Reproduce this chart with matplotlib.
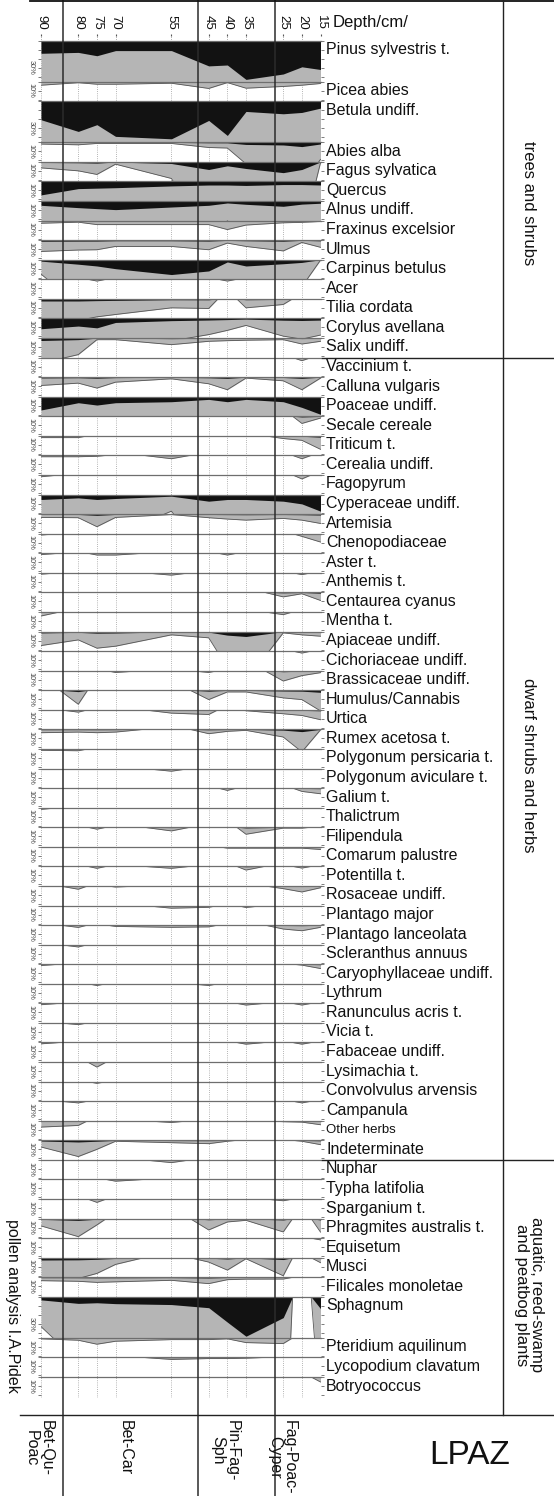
import numpy as np
import matplotlib
matplotlib.use("Agg")
import matplotlib.pyplot as plt
from matplotlib.lines import Line2D

plt.rcParams['font.family'] = ['Liberation Sans', 'DejaVu Sans']

# ---------------- data (percent of pollen sum) ----------------
DEPTHS = [90, 80, 75, 70, 55, 45, 40, 35, 25, 20, 15]

# trees and shrubs
pinus = [14, 13, 16.7, 11, 11, 28, 27, 43, 37, 29, 32]
picea = [0.39, 0.11, 0.28, 0.28, 0.17, 0.75, 0.1, 0.72, 0.53, 0.39, 0.2]
betula = [20.5, 33.5, 26, 39, 41.7, 21.3, 38, 11.3, 13.9, 12.4, 7.6]
abies = [0.2, 0.28, 0.13, 0.13, 0.13, 0.58, 0.64, 2.4, 3.0, 4.8, 1.9]
fagus = [0.67, 1.0, 1.4, 0.26, 1.85, 8.5, 4.4, 7.4, 12, 8.5, 0.1]
quercus = [15, 8, 7.5, 7, 5, 4, 4, 4.5, 3.5, 3.5, 4]
alnus = [4.8, 7.4, 8.5, 9.6, 6.7, 4.8, 2.2, 3.7, 5.9, 3.5, 2.5]
fraxinus = [0.3, 0.18, 0.45, 0.45, 0.45, 0.45, 1.0, 0.5, 0.25, 0.2, 0.1]
ulmus = [1.26, 1.1, 1.07, 0.7, 0.7, 1.07, 0.33, 0.7, 1.2, 0.26, 0.8]
carpinus = [1.6, 5, 7, 10, 16.5, 12.5, 2.5, 7, 4.5, 3, 0.05]
acer = [0, 0, 0.2, 0, 0, 0, 0.2, 0, 0, 0, 0]
tilia = [2.4, 2.4, 2.0, 1.74, 1.0, 1.07, 0, 1.0, 0.63, 0, 0]
corylus = [11.5, 8.5, 10.5, 4.5, 2.5, 1.8, 1.33, 0.78, 1.97, 2.3, 1.85]
salix = [2.8, 1.85, 0.19, 0.19, 0.74, 0.37, 0.3, 0.25, 0.19, 0.67, 0.37]

# dwarf shrubs and herbs
vaccinium = [0, 0, 0, 0, 0, 0, 0, 0, 0, 0.35, 0]
calluna = [0.93, 0.67, 1.22, 0.56, 0.19, 0.74, 1.4, 0.11, 0.41, 1.4, 0.11]
poaceae = [14.8, 6.7, 9.3, 6.7, 5.6, 3.0, 5.6, 3.0, 5.6, 11.9, 19.6]
secale = [0, 0, 0, 0, 0, 0, 0, 0, 0, 0.8, 0.2]
triticum = [0.2, 0.2, 0, 0, 0, 0, 0, 0, 0.3, 0.5, 1.5]
cerealia = [0.15, 0.15, 0.1, 0, 0.37, 0, 0, 0, 0, 0.37, 0]
fagopyrum = [0.2, 0, 0, 0, 0, 0, 0, 0, 0, 0.44, 0]
cyperaceae = [5.5, 3.7, 5.5, 4.4, 1.85, 7.4, 5.5, 5.5, 7.4, 10.4, 18.5]
artemisia = [0.37, 0.4, 1.4, 0.37, 0.05, 0.4, 0.55, 0.67, 0.48, 0.67, 1.04]
chenopodiaceae = [0.15, 0, 0, 0, 0, 0, 0, 0, 0, 0.3, 0.93]
aster = [0.15, 0, 0.2, 0.2, 0, 0, 0.2, 0, 0, 0, 0]
anthemis = [0.15, 0, 0, 0, 0.26, 0, 0, 0, 0, 0.2, 0]
centaurea = [0, 0, 0, 0, 0, 0, 0, 0, 0.5, 0.15, 0.9]
mentha = [0.45, 0, 0, 0, 0, 0, 0, 0, 0.3, 0, 0]
apiaceae = [1.56, 0.93, 1.85, 1.63, 0.37, 0.7, 4.0, 5.5, 0.15, 0.37, 0.52]
cichoriaceae = [0, 0, 0, 0, 0, 0, 0, 0, 0, 0.22, 0]
brassicaceae = [0, 0, 0, 0.2, 0, 0.2, 0, 0, 1.15, 0.55, 0.22]
humulus = [0, 1.56, 0, 0, 0, 1.04, 0.19, 0.19, 0.85, 1.04, 2.3]
urtica = [0, 0.26, 0, 0, 0.37, 0.52, 0, 0.1, 0.44, 0.63, 1.1]
rumex = [0.37, 0.3, 0.37, 0.3, 0, 0.48, 0.22, 0.11, 0.85, 2.5, 0.05]
polygonum_persicaria = [0.15, 0.2, 0, 0, 0, 0, 0, 0, 0, 0, 0]
polygonum_aviculare = [0, 0, 0, 0, 0.3, 0, 0, 0, 0, 0, 0]
galium = [0, 0, 0, 0, 0, 0, 0.26, 0, 0, 0.37, 0.63]
thalictrum = [0.19, 0, 0, 0, 0, 0, 0, 0, 0, 0, 0]
filipendula = [0, 0, 0.22, 0, 0.41, 0, 0, 0.78, 0.1, 0.1, 0]
comarum = [0, 0, 0, 0, 0, 0, 0.15, 0.15, 0.15, 0.15, 0.3]
potentilla = [0, 0, 0.22, 0, 0.22, 0, 0, 0.41, 0, 0.19, 0]
rosaceae = [0, 0.37, 0, 0.12, 0, 0, 0, 0, 0.3, 0.67, 0.2]
plantago_major = [0, 0, 0, 0, 0.3, 0.2, 0, 0.22, 0, 0, 0]
plantago_lanceolata = [0, 0.26, 0, 0.15, 0.25, 0.2, 0, 0, 0.44, 0.63, 0.25]
scleranthus = [0, 0.26, 0, 0, 0, 0, 0, 0, 0, 0, 0]
caryophyllaceae = [0.15, 0, 0, 0, 0, 0, 0, 0, 0, 0.1, 0.48]
lythrum = [0, 0, 0.19, 0, 0, 0.19, 0, 0, 0, 0, 0]
ranunculus = [0.15, 0, 0, 0, 0, 0, 0, 0.19, 0, 0.19, 0]
vicia = [0, 0.19, 0, 0, 0, 0, 0, 0, 0, 0, 0]
fabaceae = [0.15, 0, 0, 0, 0, 0, 0, 0.19, 0, 0.19, 0]
lysimachia = [0, 0, 0.56, 0, 0, 0, 0, 0, 0, 0, 0]
convolvulus = [0, 0, 0.19, 0, 0, 0, 0, 0, 0, 0, 0]
campanula = [0, 0.19, 0, 0, 0, 0, 0, 0, 0, 0.19, 0]
other_herbs = [0.7, 0.52, 0, 0, 0.19, 0, 0, 0, 0.1, 0.15, 0.44]
indeterminate = [0.74, 1.8, 1.0, 0.1, 0.26, 0.37, 0.1, 0, 0, 0.1, 0.48]

# aquatic, reed-swamp and peatbog plants
nuphar = [0, 0, 0, 0, 0.3, 0, 0, 0, 0, 0, 0]
typha = [0, 0, 0, 0.19, 0, 0, 0, 0, 0, 0, 0]
sparganium = [0, 0, 0.37, 0, 0, 0, 0, 0, 0.19, 0, 0]
phragmites = [0.81, 2.0, 0.7, 0, 0, 1.26, 0.37, 0.19, 1.48, 0, 1.5]
equisetum = [0, 0, 0, 0, 0, 0, 0, 0, 0, 0, 0.19]
musci = [2.5, 2.3, 1.74, 0.74, 0, 0.48, 1.37, 0.11, 2.0, 0, 0.55]
filicales = [0.37, 0.44, 0.56, 0.5, 0.33, 0.7, 0.26, 0.2, 0.19, 0, 0]
sphagnum = [3.3, 7.2, 6.5, 7.5, 8.5, 12, 28, 43.7, 23, 0, 13]
pteridium = [0.1, 0.26, 0.7, 0.37, 0.19, 0.19, 0.1, 0.52, 0.63, 0, 0]
lycopodium = [0, 0, 0, 0, 0.22, 0.12, 0.12, 0.08, 0, 0, 0]
botryococcus = [0, 0, 0, 0, 0, 0, 0, 0, 0, 0, 0.55]

TREES = [("Pinus sylvestris t.", pinus), ("Picea abies", picea),
         ("Betula undiff.", betula), ("Abies alba", abies),
         ("Fagus sylvatica", fagus), ("Quercus", quercus),
         ("Alnus undiff.", alnus), ("Fraxinus excelsior", fraxinus),
         ("Ulmus", ulmus), ("Carpinus betulus", carpinus), ("Acer", acer),
         ("Tilia cordata", tilia), ("Corylus avellana", corylus),
         ("Salix undiff.", salix)]
HERBS = [("Vaccinium t.", vaccinium), ("Calluna vulgaris", calluna),
         ("Poaceae undiff.", poaceae), ("Secale cereale", secale),
         ("Triticum t.", triticum), ("Cerealia undiff.", cerealia),
         ("Fagopyrum", fagopyrum), ("Cyperaceae undiff.", cyperaceae),
         ("Artemisia", artemisia), ("Chenopodiaceae", chenopodiaceae),
         ("Aster t.", aster), ("Anthemis t.", anthemis),
         ("Centaurea cyanus", centaurea), ("Mentha t.", mentha),
         ("Apiaceae undiff.", apiaceae), ("Cichoriaceae undiff.", cichoriaceae),
         ("Brassicaceae undiff.", brassicaceae), ("Humulus/Cannabis", humulus),
         ("Urtica", urtica), ("Rumex acetosa t.", rumex),
         ("Polygonum persicaria t.", polygonum_persicaria),
         ("Polygonum aviculare t.", polygonum_aviculare),
         ("Galium t.", galium), ("Thalictrum", thalictrum),
         ("Filipendula", filipendula), ("Comarum palustre", comarum),
         ("Potentilla t.", potentilla), ("Rosaceae undiff.", rosaceae),
         ("Plantago major", plantago_major),
         ("Plantago lanceolata", plantago_lanceolata),
         ("Scleranthus annuus", scleranthus),
         ("Caryophyllaceae undiff.", caryophyllaceae), ("Lythrum", lythrum),
         ("Ranunculus acris t.", ranunculus), ("Vicia t.", vicia),
         ("Fabaceae undiff.", fabaceae), ("Lysimachia t.", lysimachia),
         ("Convolvulus arvensis", convolvulus), ("Campanula", campanula),
         ("Other herbs", other_herbs), ("Indeterminate", indeterminate)]
AQUATIC = [("Nuphar", nuphar), ("Typha latifolia", typha),
           ("Sparganium t.", sparganium),
           ("Phragmites australis t.", phragmites), ("Equisetum", equisetum),
           ("Musci", musci), ("Filicales monoletae", filicales),
           ("Sphagnum", sphagnum), ("Pteridium aquilinum", pteridium),
           ("Lycopodium clavatum", lycopodium), ("Botryococcus", botryococcus)]

GROUP_NAMES = ["trees and shrubs", "dwarf shrubs and herbs",
               "aquatic, reed-swamp\nand peatbog plants"]
ZONE_BOUNDS = [84.2, 47.8, 27.1]
ZONE_NAMES = ["Bet-Qu-\nPoac", "Bet-Car", "Pin-Fag-\nSph", "Fag-Poac-\nCyper"]
EXAGGERATION = 10

# ---------------- layout / style ----------------
W, H, DPI = 554, 1496, 100
X0, X1 = 41.0, 320.5
TOP0 = 40.7
SMALL_H, BIG_H = 19.57, 41.0
PX_PER_PCT = 0.9
BIG = {"Pinus sylvestris t.", "Betula undiff.", "Sphagnum"}
GRAY = "#b5b5b5"
BLACK = "#121212"
LABEL_X = 326
GROUP_Y = [203, 765, 1295]
ZONE_LABEL_X = [39, 125, 225, 282]

fig = plt.figure(figsize=(W / DPI, H / DPI), dpi=DPI)
fig.patch.set_facecolor("white")


def rect(x, y, w, h):
    return [x / W, 1 - (y + h) / H, w / W, h / H]


def profile(depths, vals):
    xs, ys = [], []
    for i, (d, v) in enumerate(zip(depths, vals)):
        if i > 0:
            pv = vals[i - 1]
            if (pv == 0) != (v == 0):
                xs.append((depths[i - 1] + d) / 2.0)
                ys.append(0.0)
        xs.append(d)
        ys.append(v)
    return np.array(xs, float), np.array(ys, float)


# background: dotted sample lines + depth labels on top
bg = fig.add_axes(rect(X0, 36, X1 - X0, 1397.5 - 36))
bg.set_xlim(90, 15)
bg.set_ylim(0, 1)
for s in bg.spines.values():
    s.set_visible(False)
bg.patch.set_visible(False)
bg.set_yticks([])
bg.xaxis.tick_top()
bg.set_xticks(DEPTHS)
bg.set_xticklabels([str(d) for d in DEPTHS], rotation=-90, fontsize=9.5)
bg.tick_params(axis='x', length=1.5, width=0.8, pad=3, color='#555',
               labelcolor='#111')
for d in DEPTHS:
    bg.axvline(d, color='#9c9c9c', lw=0.6, ls=(0, (1, 1.6)))

# bands
y = TOP0
for group in (TREES, HERBS, AQUATIC):
    for name, vals in group:
        h = BIG_H if name in BIG else SMALL_H
        ax = fig.add_axes(rect(X0, y, X1 - X0, h))
        ymax = h / PX_PER_PCT
        ax.set_xlim(90, 15)
        ax.set_ylim(ymax, 0)
        xs, ys = profile(DEPTHS, vals)
        ax.fill_between(xs, 0, ys * EXAGGERATION, color=GRAY, lw=0)
        ax.plot(xs, ys * EXAGGERATION, color='#555555', lw=0.6)
        ax.fill_between(xs, 0, ys, color=BLACK, lw=0)
        ax.axhline(0, color='#6e6e6e', lw=0.9, clip_on=False)
        ticks = list(np.arange(0, ymax, 10))
        lab_at = 30 if name in BIG else 10
        ax.set_yticks(ticks)
        ax.set_yticklabels(['%d%%' % t if t == lab_at else '' for t in ticks],
                           rotation=-90, va='center')
        ax.tick_params(axis='y', left=True, right=True, length=2.2, width=0.6,
                       color='#666', labelsize=5.3, labelcolor='#444', pad=2.6)
        ax.set_xticks([])
        for s in ax.spines.values():
            s.set_visible(False)
        ax.patch.set_visible(False)
        fs = 9.5 if name == "Other herbs" else 11.5
        fig.text(LABEL_X / W, 1 - (y + 9) / H, name, fontsize=fs,
                 ha='left', va='center', color='#111')
        y += h

# zone boundaries (overlay)
ov = fig.add_axes(rect(X0, 0, X1 - X0, H))
ov.set_xlim(90, 15)
ov.set_ylim(0, 1)
ov.axis('off')
for b in ZONE_BOUNDS:
    ov.axvline(b, color='#2b2b2b', lw=1.1)


def hline(yy, x0, x1, lw=1.0, color='#222'):
    fig.add_artist(Line2D([x0 / W, x1 / W], [1 - yy / H, 1 - yy / H],
                          lw=lw, color=color))


def vline(xx, y0, y1, lw=1.0, color='#222'):
    fig.add_artist(Line2D([xx / W, xx / W], [1 - y0 / H, 1 - y1 / H],
                          lw=lw, color=color))


hline(1.2, 30, 554, 1.3, '#111')
vline(503, 0, 1415, 1.0)
hline(358, 322, 554, 1.0)
hline(1160, 322, 554, 1.0)
hline(1415, 20, 554, 1.0)

fig.text(333 / W, 1 - 22 / H, "Depth/cm/", fontsize=12, ha='left',
         va='center', color='#111')

for gname, gy in zip(GROUP_NAMES, GROUP_Y):
    fig.text(529 / W, 1 - gy / H, gname, fontsize=12, rotation=-90,
             ha='center', va='center', color='#111', linespacing=1.0)

for zname, zx in zip(ZONE_NAMES, ZONE_LABEL_X):
    fig.text(zx / W, 1 - 1420 / H, zname, fontsize=11.5, rotation=-90,
             ha='center', va='top', color='#111', linespacing=1.0)

fig.text(470 / W, 1 - 1456 / H, "LPAZ", fontsize=24, ha='center',
         va='center', color='#111')
fig.text(12 / W, 1 - 1306 / H, "pollen analysis I.A.Pidek", fontsize=11.5,
         rotation=-90, ha='center', va='center', color='#111')

fig.savefig("out.png", dpi=DPI, facecolor='white')
